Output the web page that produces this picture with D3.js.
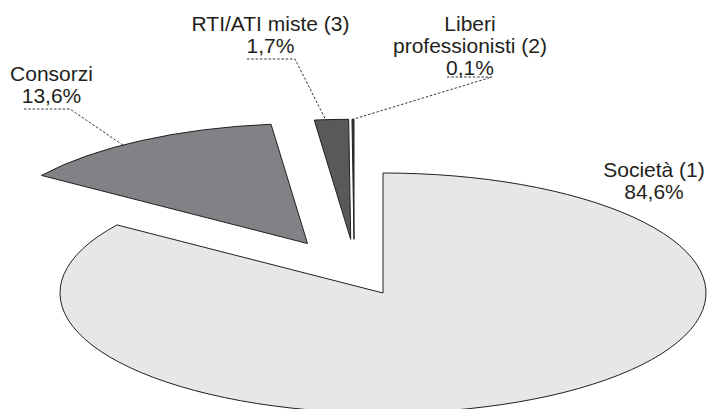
<!DOCTYPE html>
<html>
<head>
<meta charset="utf-8">
<script src="https://cdn.jsdelivr.net/npm/d3@7"></script>
<style>
  html, body { margin: 0; padding: 0; background: #fff; }
  svg { display: block; }
  text { font-family: "Liberation Sans", Arial, sans-serif; font-size: 21px; fill: #231f20; }
</style>
</head>
<body>
<svg id="chart" width="708" height="409"></svg>
<script>
// ---- data ----
const categories = ["Società (1)", "Consorzi", "RTI/ATI miste (3)", "Liberi professionisti (2)"];
const labelLines = [["Società (1)"], ["Consorzi"], ["RTI/ATI miste (3)"], ["Liberi", "professionisti (2)"]];
const values = [84.6, 13.6, 1.7, 0.1];

// ---- layout / style config ----
const W = 708, H = 409;
const cx = 383, cy = 293;      // pie centre
const rx = 323, ry = 120;      // ellipse radii (flattened pie)
const colors = ["#e6e7e8", "#808285", "#58595b", "#3a3a3c"];
const explode = [[0, 0], [-75.5, -49.5], [-32.3, -53.7], [-29, -53.7]];
const labelPos = [
  { x: 654, y: 177 },
  { x: 51.5, y: 81, lx0: 24, lx1: 70, ly: 109, f: 0.42 },
  { x: 270.5, y: 31, lx0: 247, lx1: 295, ly: 59, f: 0.33 },
  { x: 470, y: 31, lx0: 447, lx1: 492, ly: 77, f: 0.5 }
];

const it = d3.formatLocale({ decimal: ",", thousands: ".", grouping: [3], currency: ["€", ""] });
const fmt = v => it.format(".1f")(v) + "%";

const svg = d3.select("#chart");
const pie = d3.pie().sort(null).value(d => d).startAngle(0).endAngle(2 * Math.PI);
const arcs = pie(values);
const arc = d3.arc().innerRadius(0).outerRadius(ry);
const sx = rx / ry;

const slices = svg.append("g");
arcs.forEach((a, i) => {
  const g = slices.append("g")
    .attr("transform", `translate(${cx + explode[i][0]},${cy + explode[i][1]}) scale(${sx},1)`);
  g.append("path")
    .attr("d", arc(a))
    .attr("fill", colors[i])
    .attr("stroke", "#231f20")
    .attr("stroke-width", 1)
    .attr("stroke-linejoin", "miter")
    .attr("vector-effect", "non-scaling-stroke");
});

// leader lines
const leaders = svg.append("g");
arcs.forEach((a, i) => {
  const L = labelPos[i];
  if (L.lx0 === undefined) return;
  const ang = a.startAngle + L.f * (a.endAngle - a.startAngle);
  const px = cx + explode[i][0] + Math.sin(ang) * rx;
  const py = cy + explode[i][1] - Math.cos(ang) * ry;
  leaders.append("path")
    .attr("d", d3.line()([[L.lx0, L.ly], [L.lx1, L.ly], [px, py]]))
    .attr("fill", "none")
    .attr("stroke", "#231f20")
    .attr("stroke-width", 0.9)
    .attr("stroke-dasharray", "2.5,1.8");
});

// labels
const labels = svg.append("g");
arcs.forEach((a, i) => {
  const L = labelPos[i];
  const lines = labelLines[i].concat([fmt(values[i])]);
  const t = labels.append("text").attr("text-anchor", "middle");
  lines.forEach((s, k) => {
    t.append("tspan").attr("x", L.x).attr("y", L.y + k * 22).text(s);
  });
});
</script>
</body>
</html>
